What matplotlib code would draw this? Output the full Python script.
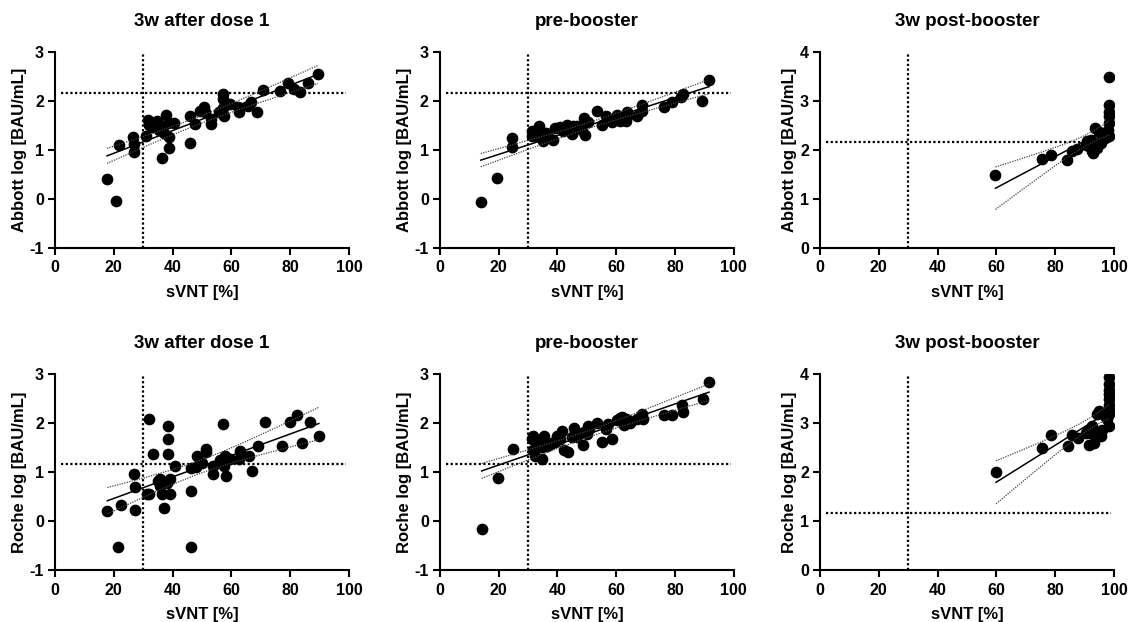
import numpy as np
import matplotlib.pyplot as plt

plt.rcParams['font.family'] = ['Liberation Sans', 'DejaVu Sans']
plt.rcParams['font.weight'] = 'bold'
plt.rcParams['axes.unicode_minus'] = False

# 3w after dose 1 - Abbott
d1_abbott_x = [17.7, 20.8, 21.9, 26.5, 26.8, 26.8, 30.8, 31.7, 32.1, 33.0, 34.7, 35.3, 36.2, 37.0,
               36.4, 37.9, 38.5, 38.7, 38.7, 40.4, 45.9, 45.8, 47.5, 49.3, 50.7, 50.9, 53.2, 53.2,
               55.8, 57.0, 57.3, 57.0, 57.5, 59.6, 62.3, 62.6, 65.5, 66.6, 68.6, 70.6, 76.7, 79.2,
               81.4, 83.5, 86.0, 89.4]
d1_abbott_y = [0.42, -0.04, 1.10, 1.26, 1.12, 0.97, 1.28, 1.62, 1.52, 1.47, 1.60, 1.42, 1.45, 1.35,
               0.84, 1.72, 1.55, 1.26, 1.04, 1.55, 1.69, 1.14, 1.54, 1.81, 1.89, 1.79, 1.64, 1.53,
               1.79, 2.15, 2.04, 1.86, 1.69, 1.94, 1.89, 1.79, 1.91, 1.98, 1.79, 2.23, 2.21, 2.37,
               2.25, 2.18, 2.37, 2.56]

# pre-booster - Abbott
pre_abbott_x = [13.9, 19.5, 24.7, 24.7, 31.5, 31.5, 32.9, 33.7, 34.6, 35.1, 36.0, 36.8, 38.5, 39.3,
                40.8, 41.9, 43.3, 44.8, 45.4, 46.5, 48.2, 49.0, 49.5, 50.5, 53.3, 55.3, 56.5, 57.6,
                58.6, 60.1, 61.2, 62.1, 63.3, 63.8, 64.0, 66.9, 68.8, 68.9, 76.3, 79.1, 82.2, 82.8,
                89.3, 91.6]
pre_abbott_y = [-0.06, 0.43, 1.24, 1.06, 1.40, 1.29, 1.28, 1.50, 1.26, 1.19, 1.35, 1.26, 1.21, 1.45,
                1.47, 1.40, 1.52, 1.33, 1.50, 1.49, 1.42, 1.66, 1.32, 1.57, 1.81, 1.52, 1.70, 1.62,
                1.57, 1.72, 1.59, 1.66, 1.60, 1.79, 1.72, 1.70, 1.93, 1.81, 1.88, 1.98, 2.08, 2.15,
                2.00, 2.44]

# 3w post-booster - Abbott
post_abbott_x = [59.7, 75.5, 78.5, 84.2, 85.9, 87.6, 90.4, 91.5, 92.1, 92.7, 93.6, 94.4, 94.9, 95.5,
                 96.0, 96.6, 98.3, 98.3, 98.4, 98.4, 98.3, 98.0, 98.3, 91.0, 93.0, 97.0, 92.5, 94.0]
post_abbott_y = [1.50, 1.81, 1.91, 1.79, 1.98, 2.02, 2.11, 2.08, 2.21, 1.98, 2.45, 2.04, 2.38, 2.15,
                 2.21, 2.32, 3.50, 2.93, 2.79, 2.69, 2.56, 2.42, 2.28, 2.18, 1.95, 2.25, 2.05, 2.10]

# 3w after dose 1 - Roche
d1_roche_x = [17.8, 21.3, 22.4, 26.9, 27.3, 27.3, 31.3, 32.0, 32.0, 33.3, 35.2, 35.6, 35.8, 36.4,
              37.0, 38.1, 38.4, 38.3, 38.6, 39.0, 39.0, 40.9, 46.4, 46.4, 46.3, 48.1, 48.3, 50.0,
              51.4, 51.5, 53.6, 53.6, 56.3, 57.2, 57.4, 57.7, 58.1, 59.7, 62.5, 62.8, 65.9, 67.0,
              69.0, 71.3, 77.3, 79.9, 82.2, 84.1, 86.7, 89.8]
d1_roche_y = [0.21, -0.53, 0.32, 0.97, 0.70, 0.23, 0.55, 2.08, 0.55, 1.38, 0.81, 0.87, 0.71, 0.55,
              0.27, 0.78, 1.94, 1.68, 1.38, 0.87, 0.55, 1.12, 1.09, 0.62, -0.53, 1.11, 1.34, 1.19,
              1.41, 1.48, 1.12, 0.96, 1.24, 1.98, 1.12, 1.33, 0.92, 1.26, 1.27, 1.44, 1.33, 1.02,
              1.53, 2.03, 1.53, 2.03, 2.16, 1.60, 2.03, 1.74]

# pre-booster - Roche
pre_roche_x = [14.2, 19.8, 24.9, 31.5, 31.7, 31.7, 32.3, 33.4, 34.6, 34.9, 35.4, 35.7, 36.3, 37.4,
               38.0, 39.1, 39.7, 40.8, 41.6, 42.2, 43.6, 44.8, 45.6, 46.5, 48.8, 49.0, 49.9, 50.5,
               50.7, 53.3, 55.3, 56.5, 57.3, 58.7, 60.1, 61.2, 62.1, 62.6, 63.3, 64.1, 64.6, 67.1,
               68.9, 69.2, 76.2, 79.1, 82.5, 82.8, 89.6, 91.6]
pre_roche_y = [-0.16, 0.89, 1.48, 1.67, 1.75, 1.45, 1.34, 1.64, 1.27, 1.51, 1.75, 1.60, 1.53, 1.57,
               1.60, 1.62, 1.75, 1.67, 1.85, 1.45, 1.41, 1.72, 1.91, 1.72, 1.55, 1.83, 1.79, 1.94,
               1.89, 2.01, 1.61, 1.89, 1.98, 1.67, 2.06, 2.11, 2.13, 1.96, 2.08, 2.06, 2.00, 2.09,
               2.19, 2.09, 2.16, 2.16, 2.37, 2.24, 2.50, 2.84]

# 3w post-booster - Roche
post_roche_x = [59.9, 75.7, 78.5, 84.5, 85.9, 87.9, 90.4, 91.3, 92.1, 93.2, 91.5, 93.2, 95.5, 96.0,
                92.7, 94.4, 94.9, 97.0, 97.7, 98.5, 98.5, 98.5, 98.5, 98.5, 98.5, 98.5, 98.4, 98.5]
post_roche_y = [2.00, 2.50, 2.77, 2.53, 2.77, 2.70, 2.80, 2.87, 2.80, 2.77, 2.56, 2.60, 2.73, 2.87,
                2.94, 3.18, 3.26, 3.14, 3.08, 3.95, 3.81, 3.69, 3.59, 3.49, 3.38, 3.28, 3.18, 2.94]

titles = ["3w after dose 1", "pre-booster", "3w post-booster"]
abbott_cut = 2.17
roche_cut = 1.17
svnt_cut = 30

panels = [
    (d1_abbott_x, d1_abbott_y, "Abbott log [BAU/mL]", (-1, 3), abbott_cut),
    (pre_abbott_x, pre_abbott_y, "Abbott log [BAU/mL]", (-1, 3), abbott_cut),
    (post_abbott_x, post_abbott_y, "Abbott log [BAU/mL]", (0, 4), abbott_cut),
    (d1_roche_x, d1_roche_y, "Roche log [BAU/mL]", (-1, 3), roche_cut),
    (pre_roche_x, pre_roche_y, "Roche log [BAU/mL]", (-1, 3), roche_cut),
    (post_roche_x, post_roche_y, "Roche log [BAU/mL]", (0, 4), roche_cut),
]

fig = plt.figure(figsize=(11.28, 6.22), dpi=100)
lefts = [0.0488, 0.390, 0.727]
bottoms = [0.6013, 0.0836]
w = 0.2605
h = 0.3145

dot = (0, (1, 1.1))
for i, (x, y, ylab, ylim, hcut) in enumerate(panels):
    row, col = divmod(i, 3)
    ax = fig.add_axes([lefts[col], bottoms[row], w, h])
    x = np.array(x)
    y = np.array(y)

    # threshold lines
    ax.plot([2, 99], [hcut, hcut], color='black', lw=1.6, linestyle=dot, zorder=1)
    ax.plot([svnt_cut, svnt_cut], ylim, color='black', lw=1.6, linestyle=dot, zorder=1)

    ax.scatter(x, y, s=55, color='black', zorder=3)

    # linear regression with 95% confidence band
    slope, intercept = np.polyfit(x, y, 1)
    xs = np.linspace(x.min(), x.max(), 100)
    fit = intercept + slope * xs
    n = len(x)
    resid = y - (intercept + slope * x)
    s_err = np.sqrt(np.sum(resid ** 2) / (n - 2))
    ci = 2.01 * s_err * np.sqrt(1 / n + (xs - x.mean()) ** 2 / np.sum((x - x.mean()) ** 2))
    ax.plot(xs, fit, color='black', lw=1.1, zorder=4)
    ax.plot(xs, fit + ci, color='#444444', lw=0.9, linestyle=(0, (1, 1)), zorder=4)
    ax.plot(xs, fit - ci, color='#444444', lw=0.9, linestyle=(0, (1, 1)), zorder=4)

    ax.set_xlim(0, 100)
    ax.set_ylim(*ylim)
    ax.set_xticks([0, 20, 40, 60, 80, 100])
    ax.set_yticks(range(ylim[0], ylim[1] + 1))
    for side in ['top', 'right']:
        ax.spines[side].set_visible(False)
    for side in ['left', 'bottom']:
        ax.spines[side].set_linewidth(1.5)
    ax.tick_params(width=1.5, length=5, labelsize=11.5, pad=3)
    ax.tick_params(axis='x', pad=4)
    for lab in ax.get_xticklabels() + ax.get_yticklabels():
        lab.set_fontweight('bold')
    ax.set_xlabel("sVNT [%]", fontsize=12, fontweight='bold', labelpad=7)
    ax.set_ylabel(ylab, fontsize=12, fontweight='bold', labelpad=2)
    ax.set_title(titles[col], fontsize=13.5, fontweight='bold', pad=19)

plt.savefig("out.png", dpi=100)
